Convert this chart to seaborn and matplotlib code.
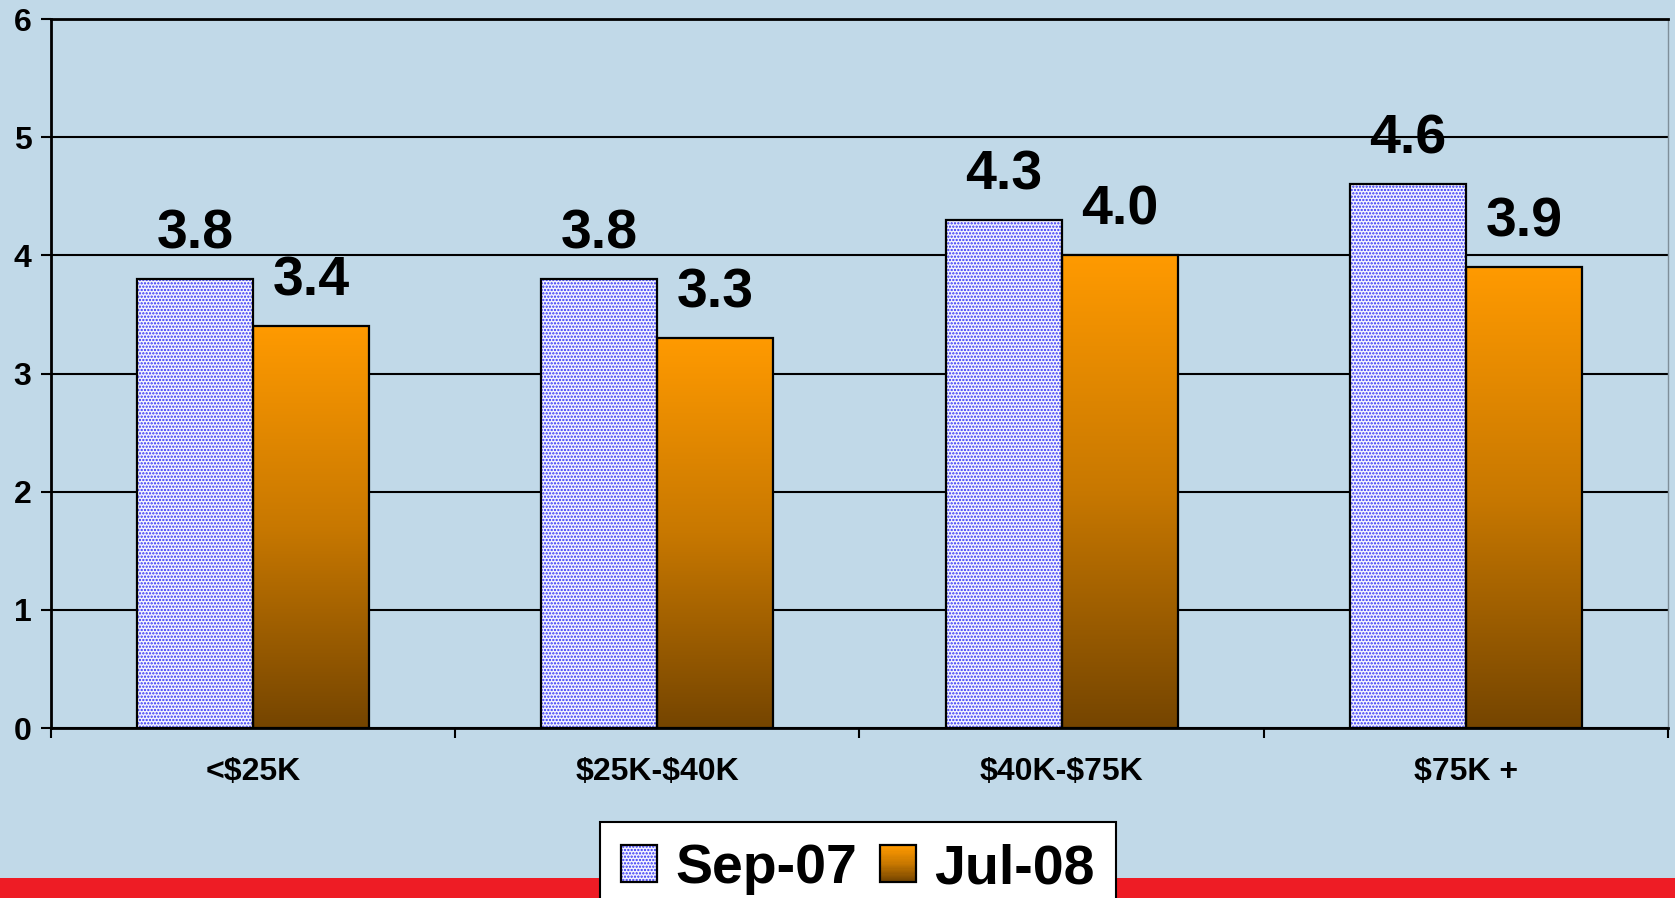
import pandas as pd
import numpy as np
import seaborn as sns
import matplotlib.pyplot as plt
from matplotlib.patches import Rectangle, Patch
from matplotlib.colors import LinearSegmentedColormap
from matplotlib.legend_handler import HandlerBase


# DATA
categories = ['<$25K', '$25K-$40K', '$40K-$75K', '$75K +']
sep07 = [3.8, 3.8, 4.3, 4.6]
jul08 = [3.4, 3.3, 4.0, 3.9]
periods = ['Sep-07', 'Jul-08']
y_ticks = [0, 1, 2, 3, 4, 5, 6]

df = pd.DataFrame({
    'income': categories * 2,
    'value': sep07 + jul08,
    'period': [periods[0]] * 4 + [periods[1]] * 4,
})

BG = '#C1D9E8'
SEP_FACE = '#F4F4FF'
SEP_DOTS = '#2E2EF5'
orange_cmap = LinearSegmentedColormap.from_list('og', ['#754500', '#C87800', '#FF9A00'])

sns.set_theme(style='white')
plt.rcParams['font.family'] = ['Liberation Sans', 'DejaVu Sans']
plt.rcParams['text.parse_math'] = False   # keep the $ signs literal
plt.rcParams['hatch.linewidth'] = 1.1
plt.rcParams['text.color'] = 'black'
plt.rcParams['xtick.color'] = 'black'
plt.rcParams['ytick.color'] = 'black'

fig = plt.figure(figsize=(16.75, 8.98), dpi=100, facecolor=BG)
ax = fig.add_axes([0.0304, 0.1893, 0.9654, 0.7895])
ax.set_facecolor(BG)

sns.barplot(data=df, x='income', y='value', hue='period', palette=[SEP_FACE, '#FF9A00'],
            width=0.574, gap=0, legend=False, ax=ax, zorder=2)

# Sep-07 bars: dotted pattern
for bar in ax.containers[0]:
    bar.set_facecolor(SEP_FACE)
    bar.set_edgecolor(SEP_DOTS)
    bar.set_hatch('.....')
    bar.set_linewidth(0)

# Jul-08 bars: vertical gradient clipped to the bar
grad = np.linspace(0, 1, 256).reshape(-1, 1)
for bar in ax.containers[1]:
    x, y = bar.get_xy()
    w, h = bar.get_width(), bar.get_height()
    im = ax.imshow(grad, extent=[x, x + w, y, y + h], origin='lower', aspect='auto',
                   cmap=orange_cmap, zorder=2)
    im.set_clip_path(bar)
    bar.set_facecolor('none')
    bar.set_linewidth(0)

# outlines + value labels
for cont in ax.containers:
    for bar in cont:
        ax.add_patch(Rectangle(bar.get_xy(), bar.get_width(), bar.get_height(),
                               fill=False, edgecolor='black', lw=1.6, zorder=3))
        ax.annotate(f'{bar.get_height():.1f}', (bar.get_x() + bar.get_width() / 2, bar.get_height()),
                    xytext=(0, 22), textcoords='offset points', ha='center', va='baseline',
                    fontsize=40, fontweight='bold', color='black')

ax.set_xlim(-0.5, 3.5)
ax.set_ylim(0, 6)
ax.set_yticks(y_ticks)
ax.set_yticklabels([str(t) for t in y_ticks], fontsize=23, fontweight='bold')
ax.yaxis.grid(True, color='black', lw=1.5)
ax.set_axisbelow(True)
ax.tick_params(axis='y', length=7, width=1.5, direction='out', pad=7, left=True, color='black')

ax.set_xticks(range(len(categories)))
ax.set_xticklabels(categories, fontsize=23, fontweight='bold')
ax.set_xticks([-0.5, 0.5, 1.5, 2.5, 3.5], minor=True)
ax.tick_params(axis='x', which='major', length=0, pad=21)
ax.tick_params(axis='x', which='minor', length=7, width=1.5, direction='out', bottom=True, color='black')
ax.set_xlabel('')
ax.set_ylabel('')

for s in ['left', 'bottom', 'top']:
    ax.spines[s].set_color('black')
    ax.spines[s].set_linewidth(2)
ax.spines['right'].set_color('#7f8f9a')
ax.spines['right'].set_linewidth(1)

# red band at bottom
fig.patches.append(Rectangle((0, 0), 1, 20 / 898, transform=fig.transFigure,
                             facecolor='#EE1C25', edgecolor='none', zorder=0))


# legend handles
class SepHandler(HandlerBase):
    def create_artists(self, legend, orig_handle, xdescent, ydescent, width, height, fontsize, trans):
        r = Rectangle((-xdescent, -ydescent), width, height, facecolor=SEP_FACE,
                      edgecolor=SEP_DOTS, hatch='.....', lw=0, transform=trans)
        b = Rectangle((-xdescent, -ydescent), width, height, fill=False,
                      edgecolor='black', lw=1.6, transform=trans)
        return [r, b]


class JulHandler(HandlerBase):
    def create_artists(self, legend, orig_handle, xdescent, ydescent, width, height, fontsize, trans):
        n = 30
        arts = []
        for i in range(n):
            arts.append(Rectangle((-xdescent, -ydescent + height * i / n), width, height / n * 1.3,
                                  facecolor=orange_cmap(i / (n - 1)), edgecolor='none', transform=trans))
        arts.append(Rectangle((-xdescent, -ydescent), width, height, fill=False,
                              edgecolor='black', lw=1.6, transform=trans))
        return arts


h_sep = Patch(label=periods[0])
h_jul = Patch(label=periods[1])
leg = fig.legend(handles=[h_sep, h_jul], labels=periods, loc='upper center',
                 bbox_to_anchor=(858 / 1675, 1 - 822 / 898), ncol=2,
                 prop={'weight': 'bold', 'size': 40}, frameon=True, fancybox=False,
                 framealpha=1, edgecolor='black', facecolor='white',
                 handlelength=0.64, handleheight=0.64, handletextpad=0.33,
                 columnspacing=0.42, borderpad=0.38, borderaxespad=0,
                 handler_map={h_sep: SepHandler(), h_jul: JulHandler()})
leg.get_frame().set_linewidth(1.5)

fig.savefig('out.png', dpi=100, facecolor=BG)
